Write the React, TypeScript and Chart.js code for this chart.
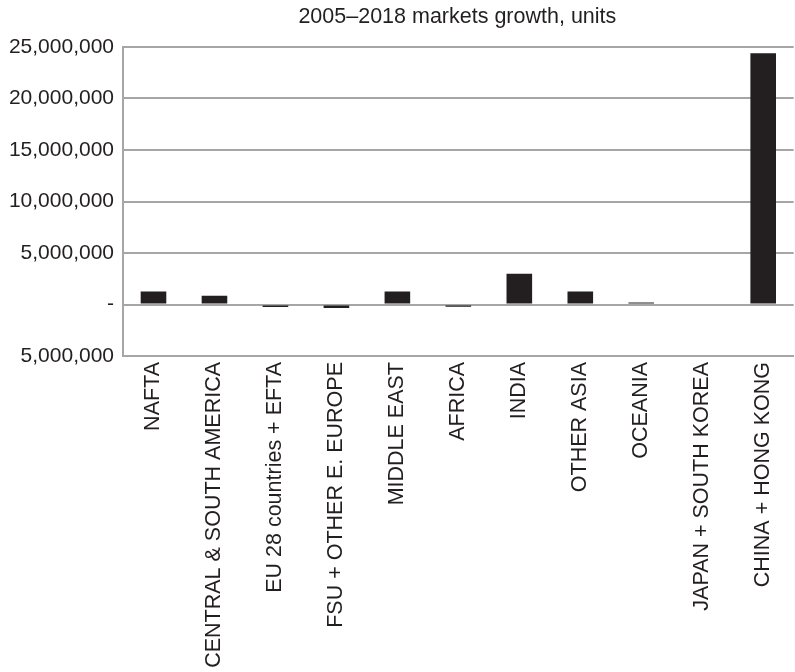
import React, { useEffect, useRef } from "react";
import { Chart, registerables } from "chart.js";

Chart.register(...registerables);

const categories = [
  "NAFTA",
  "CENTRAL & SOUTH AMERICA",
  "EU 28 countries + EFTA",
  "FSU + OTHER E. EUROPE",
  "MIDDLE EAST",
  "AFRICA",
  "INDIA",
  "OTHER ASIA",
  "OCEANIA",
  "JAPAN + SOUTH KOREA",
  "CHINA + HONG KONG",
];

const growth = [
  1260000, 850000, -250000, -350000, 1260000, -220000, 2980000, 1260000, 200000, 0, 24400000,
];

const titleText = "2005\u20132018 markets growth, units";
const yMin = -5000000;
const yMax = 25000000;
const yStep = 5000000;

const FONT = "'Liberation Sans', Arial, sans-serif";

const plotTitle = {
  id: "plotTitle",
  afterDraw(chart: any) {
    const { ctx, chartArea } = chart;
    ctx.save();
    ctx.fillStyle = "#231f20";
    ctx.font = `21.5px ${FONT}`;
    ctx.textAlign = "center";
    ctx.textBaseline = "middle";
    ctx.fillText(titleText, (chartArea.left + chartArea.right) / 2 - 1, 17);
    ctx.restore();
  },
};

export default function App() {
  const ref = useRef<HTMLCanvasElement | null>(null);

  useEffect(() => {
    if (!ref.current) return;
    const chart = new Chart(ref.current, {
      type: "bar",
      data: {
        labels: categories,
        datasets: [
          {
            data: growth,
            backgroundColor: "#231f20",
            borderWidth: 0,
            categoryPercentage: 1,
            barPercentage: 0.42,
          },
        ],
      },
      plugins: [plotTitle],
      options: {
        responsive: false,
        animation: false,
        layout: { padding: { top: 47, right: 0, left: 0, bottom: 0 } },
        plugins: {
          legend: { display: false },
          tooltip: { enabled: false },
          title: { display: false },
        },
        scales: {
          x: {
            grid: { display: false, drawTicks: false },
            border: { display: true, color: "#a6a6a6", width: 2 },
            ticks: {
              color: "#231f20",
              font: { family: FONT, size: 21.5 },
              maxRotation: 90,
              minRotation: 90,
              autoSkip: false,
              padding: 6,
            },
            afterFit: (scale: any) => {
              scale.height = 316;
            },
          },
          y: {
            min: yMin,
            max: yMax,
            grid: { color: "#a6a6a6", lineWidth: 2, drawTicks: false },
            border: { display: true, color: "#a6a6a6", width: 2 },
            ticks: {
              stepSize: yStep,
              color: "#231f20",
              font: { family: FONT, size: 21 },
              padding: 9,
              callback: (v: any) => {
                const n = Number(v);
                if (n === 0) return "-";
                return Math.abs(n).toLocaleString("en-US");
              },
            },
            afterFit: (scale: any) => {
              scale.width = 123;
            },
          },
        },
      },
    });
    return () => chart.destroy();
  }, []);

  return (
    <div style={{ position: "absolute", left: 0, top: 0, width: 795, height: 672, background: "#fff" }}>
      <canvas ref={ref} width={795} height={672} style={{ width: 795, height: 672 }} />
    </div>
  );
}
